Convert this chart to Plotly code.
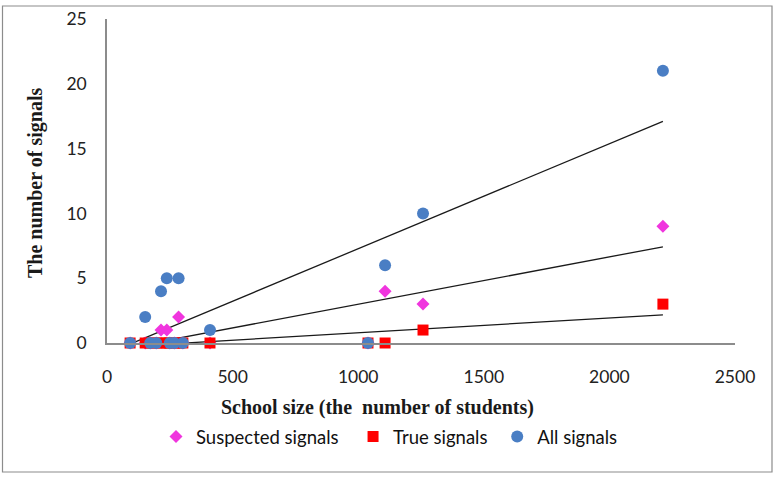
import numpy as np
import plotly.graph_objects as go

school_size = [92, 152, 172, 196, 215, 238, 250, 268, 285, 302, 410, 1039, 1107, 1258, 2213]
suspected = [0, 0, 0, 0, 1, 1, 0, 0, 2, 0, 0, 0, 4, 3, 9]
true_sig = [0, 0, 0, 0, 0, 0, 0, 0, 0, 0, 0, 0, 0, 1, 3]
all_sig = [0, 2, 0, 0, 4, 5, 0, 0, 5, 0, 1, 0, 6, 10, 21]

x_ticks = [0, 500, 1000, 1500, 2000, 2500]
y_ticks = [0, 5, 10, 15, 20, 25]

NB = "\u00a0"
series = [
    ("Suspected signals", suspected, "diamond", "#F035DE", 10, NB * 2),
    ("True signals", true_sig, "square", "#FF0000", 11, NB),
    ("All signals", all_sig, "circle", "#4A7EC4", 12, ""),
]

fig = go.Figure()
xs = np.array(school_size, dtype=float)
xfit = np.array([xs.min(), xs.max()])

# trend lines (least squares)
for name, vals, sym, col, sz, pad in series:
    k, b = np.polyfit(xs, np.array(vals, dtype=float), 1)
    fig.add_trace(go.Scatter(x=xfit, y=k * xfit + b, mode="lines",
                             line=dict(color="#1a1a1a", width=1.3),
                             showlegend=False, hoverinfo="skip"))

for name, vals, sym, col, sz, pad in series:
    fig.add_trace(go.Scatter(x=school_size, y=vals, mode="markers", name=name + pad,
                             marker=dict(symbol=sym, color=col, size=sz, line=dict(width=0)),
                             cliponaxis=False))

W, H = 779, 480
L, T, PW, PH = 107, 19, 628, 324
axis_font = dict(family="Lato, Liberation Sans, sans-serif", size=17.5, color="#222222")
fig.update_layout(
    width=W, height=H,
    margin=dict(l=L, r=W - L - PW, t=T, b=H - T - PH, autoexpand=False),
    paper_bgcolor="white", plot_bgcolor="white",
    showlegend=True,
    legend=dict(orientation="h", x=(156 - 107) / PW, y=(343 - 418) / PH,
                xanchor="left", yanchor="top",
                font=dict(family="Lato, Liberation Sans, sans-serif", size=18.5, color="#111111"),
                itemwidth=30, tracegroupgap=0, bgcolor="rgba(0,0,0,0)"),
    xaxis=dict(range=[0, 2500], tickvals=x_ticks, showgrid=False, zeroline=False,
               showline=True, linecolor="#8c8c8c", linewidth=1.5, ticks="",
               tickfont=axis_font, ticklabelstandoff=17, automargin=False),
    yaxis=dict(range=[0, 25], tickvals=y_ticks, showgrid=False, zeroline=False,
               showline=True, linecolor="#8c8c8c", linewidth=1.5, ticks="",
               tickfont=axis_font, ticklabelstandoff=15, automargin=False),
)

fig.add_annotation(text="<b>School size (the  number of students)</b>", xref="paper", yref="paper",
                   x=(377 - 107) / PW, y=(343 - 407) / PH, showarrow=False,
                   font=dict(family="Liberation Serif, serif", size=20, color="#1a1a1a"),
                   xanchor="center", yanchor="middle")
fig.add_annotation(text="<b>The number of signals</b>", xref="paper", yref="paper",
                   x=(35 - 107) / PW, y=(343 - 183) / PH, showarrow=False, textangle=-90,
                   font=dict(family="Liberation Serif, serif", size=20, color="#1a1a1a"),
                   xanchor="center", yanchor="middle")

fig.add_shape(type="rect", xref="paper", yref="paper",
              x0=(2.5 - 107) / PW, x1=(772 - 107) / PW,
              y0=(343 - 472) / PH, y1=(343 - 6) / PH,
              line=dict(color="#8c8c8c", width=1.2), fillcolor="rgba(0,0,0,0)", layer="below")

# remove the browser's default 8px body margin so the figure fills the window
fig.write_html("out.html", config={"displayModeBar": False},
               post_script="document.body.style.margin='0';document.body.style.padding='0';")
